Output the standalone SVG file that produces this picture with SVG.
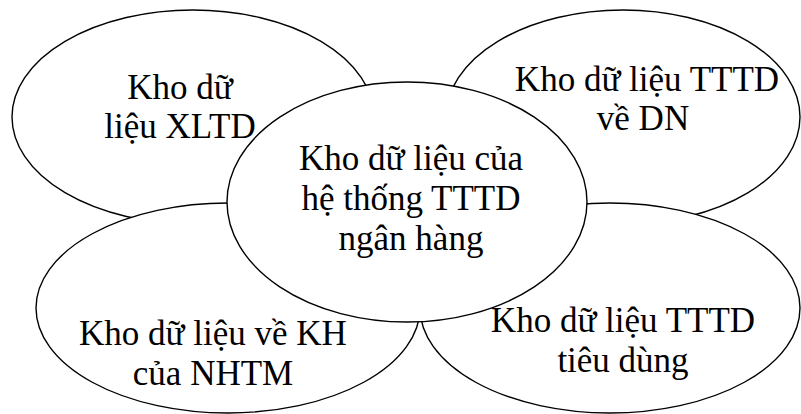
<svg xmlns="http://www.w3.org/2000/svg" width="801" height="414" viewBox="0 0 801 414">
  <style>
    .bubble { fill: #ffffff; stroke: #000000; stroke-width: 1.4; }
    .label { font-family: "Liberation Serif", "Times New Roman", serif; font-size: 35px; fill: #000000; text-anchor: middle; }
  </style>
  <rect width="801" height="414" fill="#ffffff"/>

  <g id="kho-xltd">
    <ellipse class="bubble" cx="193" cy="117" rx="181" ry="107"/>
    <text class="label" x="180" y="99">Kho dữ</text>
    <text class="label" x="180" y="138">liệu XLTD</text>
  </g>

  <g id="kho-tttd-dn">
    <ellipse class="bubble" cx="623" cy="117" rx="177" ry="107"/>
    <text class="label" x="647" y="91">Kho dữ liệu TTTD</text>
    <text class="label" x="643" y="130">về DN</text>
  </g>

  <g id="kho-kh-nhtm">
    <ellipse class="bubble" cx="228" cy="308" rx="192" ry="105"/>
    <text class="label" x="213" y="345">Kho dữ liệu về KH</text>
    <text class="label" x="213" y="385">của NHTM</text>
  </g>

  <g id="kho-tttd-tieu-dung">
    <ellipse class="bubble" cx="610" cy="308" rx="190" ry="105"/>
    <text class="label" x="623" y="332">Kho dữ liệu TTTD</text>
    <text class="label" x="623" y="372">tiêu dùng</text>
  </g>

  <g id="kho-trung-tam">
    <ellipse class="bubble" cx="407" cy="202" rx="180" ry="120"/>
    <text class="label" x="411" y="170">Kho dữ liệu của</text>
    <text class="label" x="411" y="210">hệ thống TTTD</text>
    <text class="label" x="411" y="250">ngân hàng</text>
  </g>

  <g id="connectors"/>
</svg>
